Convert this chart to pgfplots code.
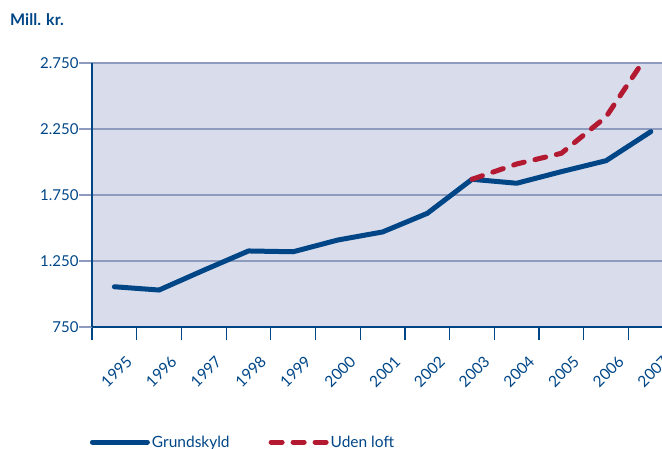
\documentclass[border=0pt]{standalone}
\usepackage{fontspec}
\setmainfont{Lato}
\usepackage{pgfplots}
\pgfplotsset{compat=1.18}
\definecolor{navy}{RGB}{0,70,135}
\definecolor{bordeaux}{RGB}{180,25,50}
\definecolor{bgfill}{RGB}{217,220,235}
\definecolor{gridc}{RGB}{140,155,190}
\begin{document}
\begin{tikzpicture}
\useasboundingbox (0,0) rectangle (662bp,449bp);
\node[anchor=base west, font=\fontsize{16bp}{19bp}\selectfont\bfseries, text=navy, inner sep=0pt] at (10bp,423bp) {Mill. kr.};
\begin{axis}[
  at={(92bp,122bp)}, anchor=south west,
  width=570bp, height=264bp, scale only axis,
  xmin=-0.5, xmax=12.25, ymin=750, ymax=2750,
  axis lines*=left,
  axis line style={navy, line width=1.5bp},
  axis background/.style={fill=bgfill},
  ytick={750,1250,1750,2250,2750},
  ymajorgrids, grid style={gridc, line width=1.2bp},
  y tick style={gridc, line width=1.2bp},
  tick align=outside,
  major tick length=13bp,
  xtick={-0.5,0.5,...,11.5}, xticklabels={},
  x tick style={navy, line width=1.2bp},
  extra x ticks={0,1,2,3,4,5,6,7,8,9,10,11,12},
  extra x tick labels={1995,1996,1997,1998,1999,2000,2001,2002,2003,2004,2005,2006,2007},
  extra x tick style={major tick length=0pt, xticklabel style={rotate=45, anchor=east, xshift=-8.5bp, yshift=-33bp}},
  xticklabel style={font=\fontsize{15.5bp}{18bp}\selectfont, text=navy},
  yticklabel style={font=\fontsize{15bp}{18bp}\selectfont, text=navy, xshift=3bp},
  /pgf/number format/1000 sep={.},
  /pgf/number format/assume math mode=true,
  clip=true,
  legend style={at={(-0.004,-0.436)}, anchor=west, draw=none, fill=none, inner sep=0pt,
    font=\fontsize{15.5bp}{18bp}\selectfont, text=navy,
    /tikz/every even column/.append style={column sep=37bp}},
  legend columns=2,
  legend cell align=left,
  legend image code/.code={\draw[#1] (0bp,0bp) -- (55bp,0bp);},
]
\addplot[navy, line width=5bp, line join=round, line cap=round] coordinates {
  (0,1055) (1,1030) (2,1180) (3,1326) (4,1320) (5,1409) (6,1470) (7,1611) (8,1869) (9,1839) (10,1927) (11,2010) (12,2230)
};
\addlegendentry{Grundskyld}
\addplot[bordeaux, line width=5bp, line join=round, line cap=round, dash pattern=on 11bp off 11bp] coordinates {
  (8,1869) (9,1985) (10,2066) (11,2343) (12,2850)
};
\addlegendentry{Uden loft}
\end{axis}
\end{tikzpicture}
\end{document}
